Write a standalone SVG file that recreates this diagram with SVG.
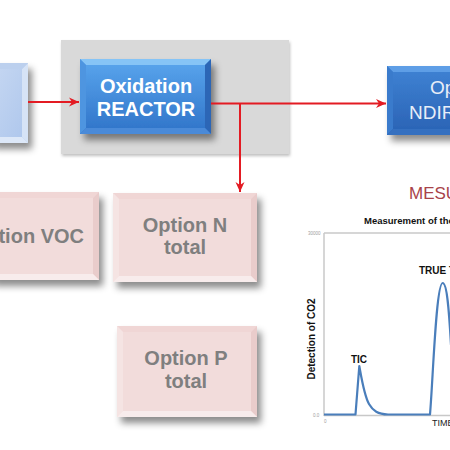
<svg xmlns="http://www.w3.org/2000/svg" width="450" height="450" viewBox="0 0 450 450">
<defs>
<style>
.lbl{font-family:"Liberation Sans",Arial,sans-serif;}
.blueTxt{fill:#ffffff;font-size:20px;font-weight:bold;text-anchor:middle;}
.ndirTxt{fill:#e8eef8;font-size:19px;}
.pinkTxt{fill:#7f7f7f;font-size:20px;font-weight:bold;text-anchor:middle;}
.conn{fill:none;stroke:#e31b23;stroke-width:2;}
.axis{stroke:#c8c8c8;stroke-width:1.5;fill:none;}
.tiny{fill:#a0a0a0;font-size:4.5px;}
.chartB{fill:#111;font-weight:bold;}
</style>
<linearGradient id="gBlue" x1="0" y1="0" x2="0" y2="1">
<stop offset="0" stop-color="#5aa6ee"/>
<stop offset="1" stop-color="#2f73c8"/>
</linearGradient>
<linearGradient id="gBlue2" x1="0" y1="0" x2="0" y2="1">
<stop offset="0" stop-color="#3f83d4"/>
<stop offset="1" stop-color="#2a62b4"/>
</linearGradient>
<linearGradient id="gLight" x1="0" y1="0" x2="1" y2="1">
<stop offset="0" stop-color="#c7d8f2"/>
<stop offset="1" stop-color="#adc6ec"/>
</linearGradient>
<filter id="sh" x="-20%" y="-20%" width="150%" height="160%">
<feDropShadow dx="4" dy="6" stdDeviation="3.5" flood-color="#000" flood-opacity="0.45"/>
</filter>
<filter id="shLight" x="-10%" y="-10%" width="130%" height="130%">
<feDropShadow dx="1" dy="2" stdDeviation="1.5" flood-color="#000" flood-opacity="0.25"/>
</filter>
<marker id="arr" markerUnits="userSpaceOnUse" markerWidth="12" markerHeight="10" refX="10" refY="5" orient="auto">
<path d="M0,0.5 L10,5 L0,9.5 L3,5 Z" fill="#e31b23"/>
</marker>
</defs>

<!-- gray panel -->
<g id="panel">
<rect x="61" y="40" width="228" height="114" fill="#d9d9d9" filter="url(#shLight)"/>
</g>

<!-- left light blue node -->
<g id="node-left">
<rect x="-10" y="63" width="38" height="80" fill="url(#gLight)" filter="url(#sh)"/>
<polygon points="28,63 28,143 22,137 22,69" fill="#d6e3f6"/>
<polygon points="-10,143 28,143 22,137 -10,137" fill="#dde8f8"/>
<polygon points="-10,63 28,63 22,69 -10,69" fill="#bcd0ee"/>
</g>

<!-- Oxidation REACTOR -->
<g id="node-reactor">
<rect x="80" y="59" width="131" height="75" fill="url(#gBlue)" filter="url(#sh)"/>
<polygon points="80,59 211,59 205,65 86,65" fill="#86c4f6"/>
<polygon points="80,59 86,65 86,128 80,134" fill="#4e95e0"/>
<polygon points="211,59 211,134 205,128 205,65" fill="#2c66b6"/>
<polygon points="80,134 86,128 205,128 211,134" fill="#4a8ad8"/>
<text class="lbl blueTxt" x="146" y="93">Oxidation</text>
<text class="lbl blueTxt" x="146" y="116">REACTOR</text>
</g>

<!-- NDIR node -->
<g id="node-ndir">
<rect x="387" y="66" width="140" height="69" fill="url(#gBlue2)" filter="url(#sh)"/>
<polygon points="387,66 527,66 521,72 393,72" fill="#5e9ee6"/>
<polygon points="387,66 393,72 393,129 387,135" fill="#3a7bcc"/>
<polygon points="387,135 393,129 521,129 527,135" fill="#3570c0"/>
<text class="lbl ndirTxt" x="430" y="94">Op</text>
<text class="lbl ndirTxt" x="409" y="119">NDIR</text>
</g>

<!-- Option VOC -->
<g id="node-voc">
<rect x="-10" y="192" width="109" height="88" fill="#f2dcdb" filter="url(#sh)"/>
<polygon points="-10,192 99,192 93,198 -10,198" fill="#f0d6d5"/>
<polygon points="99,192 99,280 93,274 93,198" fill="#e9cccb"/>
<polygon points="-10,280 99,280 93,274 -10,274" fill="#f8ecec"/>
<text class="lbl pinkTxt" x="84" y="243" style="text-anchor:end">tion VOC</text>
</g>

<!-- Option N total -->
<g id="node-n">
<rect x="113" y="193" width="144" height="89" fill="#f2dcdb" filter="url(#sh)"/>
<polygon points="113,193 257,193 251,199 119,199" fill="#f0d6d5"/>
<polygon points="113,193 119,199 119,276 113,282" fill="#f5e4e3"/>
<polygon points="257,193 257,282 251,276 251,199" fill="#e9cccb"/>
<polygon points="113,282 119,276 251,276 257,282" fill="#f8ecec"/>
<text class="lbl pinkTxt" x="185" y="232">Option N</text>
<text class="lbl pinkTxt" x="185" y="254">total</text>
</g>

<!-- Option P total -->
<g id="node-p">
<rect x="117" y="326" width="140" height="91" fill="#f2dcdb" filter="url(#sh)"/>
<polygon points="117,326 257,326 251,332 123,332" fill="#f0d6d5"/>
<polygon points="117,326 123,332 123,411 117,417" fill="#f5e4e3"/>
<polygon points="257,326 257,417 251,411 251,332" fill="#e9cccb"/>
<polygon points="117,417 123,411 251,411 257,417" fill="#f8ecec"/>
<text class="lbl pinkTxt" x="186" y="365">Option P</text>
<text class="lbl pinkTxt" x="186" y="388">total</text>
</g>

<!-- connectors -->
<g id="connectors">
<line class="conn" x1="28" y1="102" x2="79" y2="102" marker-end="url(#arr)"/>
<line class="conn" x1="211" y1="103.5" x2="386" y2="103.5" marker-end="url(#arr)"/>
<line class="conn" x1="240" y1="103.5" x2="240" y2="192" marker-end="url(#arr)"/>
</g>

<!-- chart -->
<g id="chart">
<text class="lbl" x="409" y="199" fill="#a8434a" font-size="17">MESU</text>
<text class="lbl chartB" x="364" y="224" font-size="9.5">Measurement of the</text>
<line class="axis" x1="324" y1="233" x2="450" y2="233"/>
<line class="axis" x1="324" y1="233" x2="324" y2="416"/>
<line class="axis" x1="324" y1="415.5" x2="450" y2="415.5"/>
<text class="lbl tiny" x="308" y="234.5">30000</text>
<text class="lbl tiny" x="313" y="416.5">0.0</text>
<text class="lbl tiny" x="324" y="423">0</text>
<text class="lbl chartB" x="0" y="0" font-size="10" text-anchor="middle" transform="translate(315,339) rotate(-90)">Detection of CO2</text>
<text class="lbl chartB" x="359" y="363" font-size="10" text-anchor="middle">TIC</text>
<text class="lbl chartB" x="419" y="274" font-size="10">TRUE T</text>
<text class="lbl" x="432" y="426" fill="#222" font-size="9">TIME</text>
<path d="M324,414.5 L355.5,414.5 L359.3,366 C361,375 364,395 369,404 C373,411 378,414 388,414.5 L430,414.5 C433,380 436,283 442.7,283 C447,283 449,310 451,345" fill="none" stroke="#4a7ebb" stroke-width="2.2" stroke-linejoin="round"/>
</g>
</svg>
